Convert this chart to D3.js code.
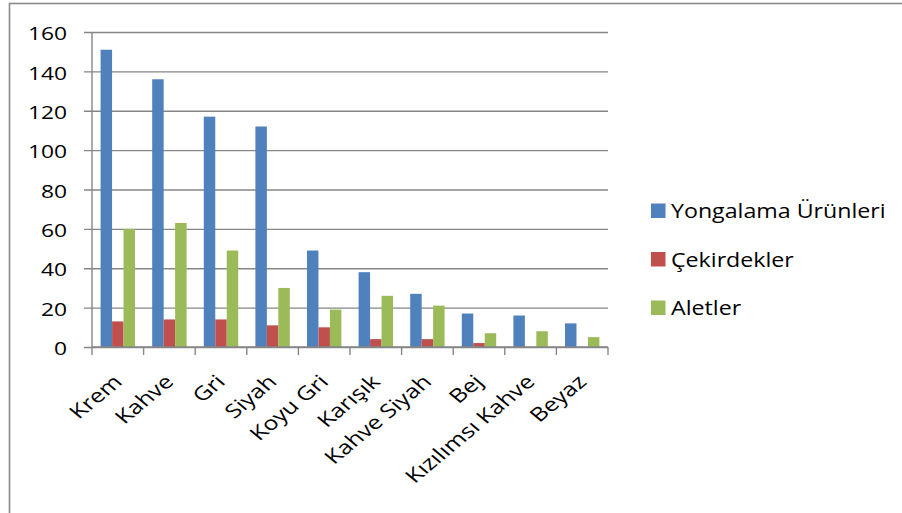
<!DOCTYPE html>
<html>
<head>
<meta charset="utf-8">
<script src="https://cdn.jsdelivr.net/npm/d3@7"></script>
<style>
  html, body { margin: 0; padding: 0; background: #fff; }
  svg { display: block; }
  text { font-family: "Open Sans", "Noto Sans", sans-serif; fill: #000; }
</style>
</head>
<body>
<svg id="chart" width="902" height="513"></svg>
<script>
// Renk kategorileri ve seri değerleri
const categories = ["Krem", "Kahve", "Gri", "Siyah", "Koyu Gri", "Karışık",
                    "Kahve Siyah", "Bej", "Kızılımsı Kahve", "Beyaz"];
const seriesNames = ["Yongalama Ürünleri", "Çekirdekler", "Aletler"];
const yongalama = [151, 136, 117, 112, 49, 38, 27, 17, 16, 12];
const cekirdek  = [13, 14, 14, 11, 10, 4, 4, 2, 0, 0];
const aletler   = [60, 63, 49, 30, 19, 26, 21, 7, 8, 5];
const yTicks = [0, 20, 40, 60, 80, 100, 120, 140, 160];
const colors = ["#4F81BD", "#C0504D", "#9BBB59"];

const seriesValues = [yongalama, cekirdek, aletler];
const rows = categories.map((c, i) => ({
  cat: c,
  vals: seriesNames.map((s, k) => ({ series: s, k, v: seriesValues[k][i] }))
}));

const svg = d3.select("#chart");
const gray = "#868686";
const stretch = 1.2;   // horizontal text width factor

// Outer chart frame
svg.append("rect")
  .attr("x", 9.5).attr("y", 3.5)
  .attr("width", 1000).attr("height", 1000)
  .attr("fill", "#fff")
  .attr("stroke", "#8a8a8a").attr("stroke-width", 1.6);

const plot = { left: 92, right: 608, top: 32, bottom: 347 };

const x0 = d3.scaleBand().domain(categories)
  .range([plot.left, plot.right]).paddingInner(0).paddingOuter(0);
const x1 = d3.scaleBand().domain(seriesNames)
  .range([0, x0.bandwidth()]).paddingInner(0).paddingOuter(0.75);
const y = d3.scaleLinear().domain([0, 160]).range([plot.bottom, plot.top]);

// Horizontal gridlines with outside tick marks
const yAxis = d3.axisLeft(y).tickValues(yTicks)
  .tickSize(-(plot.right - plot.left) - 8).tickFormat("").tickSizeOuter(0);
const yg = svg.append("g").attr("transform", `translate(${plot.left - 8},0)`);
yg.call(yAxis);
yg.select(".domain").remove();
yg.selectAll(".tick line")
  .attr("x1", 0).attr("x2", plot.right - plot.left + 8)
  .attr("stroke", gray).attr("stroke-width", 1.4);

// Vertical axis line
svg.append("line")
  .attr("x1", plot.left).attr("x2", plot.left)
  .attr("y1", y(160)).attr("y2", y(0))
  .attr("stroke", gray).attr("stroke-width", 1.4);

// Y tick labels
svg.append("g").selectAll("text").data(yTicks).join("text")
  .attr("text-anchor", "end")
  .attr("dominant-baseline", "central")
  .attr("font-size", 19)
  .attr("transform", d => `translate(67,${y(d) + 1}) scale(${stretch},1)`)
  .text(d => d);

// Bars
const groups = svg.append("g").selectAll("g").data(rows).join("g")
  .attr("transform", d => `translate(${x0(d.cat)},0)`);
groups.selectAll("rect").data(d => d.vals).join("rect")
  .attr("x", d => x1(d.series))
  .attr("width", x1.bandwidth())
  .attr("y", d => y(d.v))
  .attr("height", d => y(0) - y(d.v))
  .attr("fill", d => colors[d.k]);

// Category axis with ticks between groups
const xAxisY = y(0);
svg.append("line")
  .attr("x1", plot.left).attr("x2", plot.right)
  .attr("y1", xAxisY).attr("y2", xAxisY)
  .attr("stroke", gray).attr("stroke-width", 1.4);
const boundaries = categories.map(c => x0(c)).concat([x0.range()[1]]);
svg.append("g").selectAll("line").data(boundaries).join("line")
  .attr("x1", d => d).attr("x2", d => d)
  .attr("y1", xAxisY).attr("y2", xAxisY + 8)
  .attr("stroke", gray).attr("stroke-width", 1.4);

// Rotated category labels (45° labels in a horizontally widened frame)
svg.append("g").selectAll("text").data(categories).join("text")
  .attr("text-anchor", "end")
  .attr("font-size", 19)
  .attr("transform", d =>
    `translate(${x0(d) + x0.bandwidth() / 2 + 5.5},383) scale(${stretch},1) rotate(-45) scale(1.1,1)`)
  .text(d => d);

// Legend
const legend = svg.append("g").selectAll("g").data(seriesNames).join("g")
  .attr("transform", (d, i) => `translate(651,${218 + i * 48.5})`);
legend.append("rect")
  .attr("x", 0).attr("y", -14.5)
  .attr("width", 14.5).attr("height", 14.5)
  .attr("fill", (d, i) => colors[i]);
legend.append("text")
  .attr("font-size", 20)
  .attr("transform", `translate(20,0) scale(1.16,1)`)
  .text(d => d);
</script>
</body>
</html>
